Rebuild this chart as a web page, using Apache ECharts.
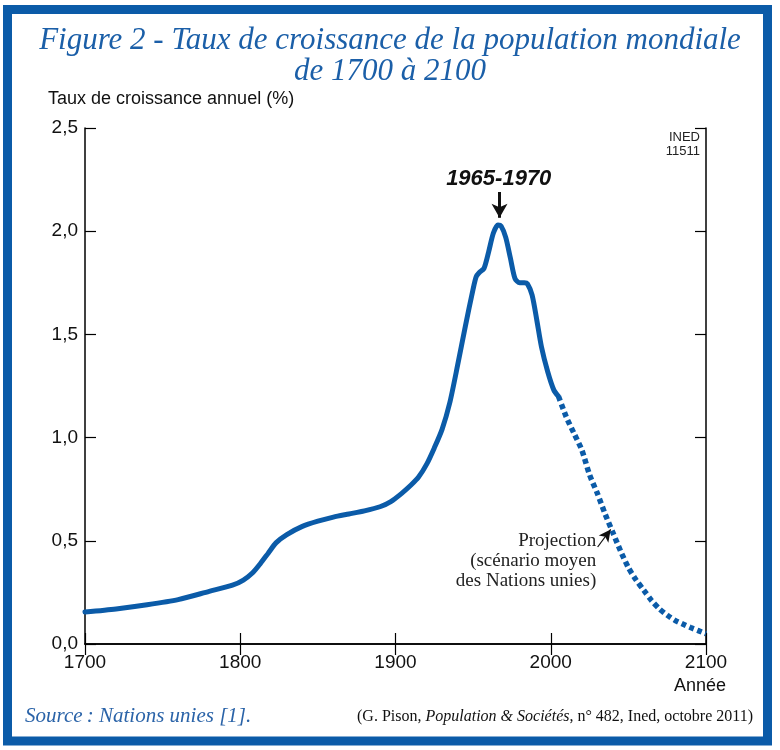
<!DOCTYPE html>
<html>
<head>
<meta charset="utf-8">
<script src="https://cdn.jsdelivr.net/npm/echarts@6/dist/echarts.min.js"></script>
<style>
html,body{margin:0;padding:0;background:#fff;}
#c{width:780px;height:750px;}
</style>
</head>
<body>
<div id="c"></div>
<script>
// Observed growth rates (% per year)
var histYears = [1700,1720,1740,1760,1780,1795,1802,1808,1813,1818,1823,1830,1840,1850,1860,1870,1880,1890,1897,1904,1910,1915,1920,1925,1930,1935,1940,1945,1950,1952,1954,1957,1960,1963,1966,1968,1971,1974,1977,1980,1983,1985,1988,1991,1994,1998,2002,2005];
var histRates = [0.155,0.17,0.19,0.215,0.255,0.285,0.31,0.345,0.39,0.44,0.49,0.53,0.57,0.595,0.615,0.63,0.645,0.665,0.69,0.73,0.77,0.81,0.87,0.95,1.04,1.17,1.35,1.54,1.72,1.78,1.80,1.82,1.90,1.99,2.03,2.025,1.97,1.87,1.77,1.75,1.75,1.745,1.69,1.57,1.44,1.32,1.23,1.20];
// UN medium-variant projection
var projYears = [2005,2010,2015,2020,2025,2030,2035,2040,2045,2050,2055,2060,2065,2070,2075,2080,2085,2090,2095,2100];
var projRates = [1.20,1.10,1.02,0.94,0.82,0.73,0.63,0.54,0.45,0.37,0.31,0.26,0.21,0.17,0.14,0.115,0.097,0.08,0.065,0.05];
var yTicks = ['0,0','0,5','1,0','1,5','2,0','2,5'];
var xTicks = ['1700','1800','1900','2000','2100'];

var BLUE = '#0b5ba8';
function pairs(xs, ys){ return xs.map(function(x,i){return [x, ys[i]];}); }

var chart = echarts.init(document.getElementById('c'), null, {renderer:'canvas'});
var sansFont = 'Liberation Sans';
var axisLine = {show:true, lineStyle:{color:'#000', width:1.5}};
var tick = {show:true, inside:true, length:11, lineStyle:{color:'#000', width:1.2}};
var option = {
  backgroundColor:'#fff',
  animation:false,
  grid:{left:85, top:128, right:74, bottom:106, containLabel:false},
  xAxis:[{
    type:'value', min:1700, max:2100, interval:100, position:'bottom',
    axisLine:axisLine, axisTick:tick,
    axisLabel:{margin:9, fontFamily:sansFont, fontSize:19, color:'#111',
      formatter:function(v){ return xTicks[Math.round((v-1700)/100)]; }},
    splitLine:{show:false}
  },{
    type:'value', min:1700, max:2100, interval:100, position:'top',
    axisLine:axisLine, axisTick:tick,
    axisLabel:{show:false}, splitLine:{show:false}
  }],
  yAxis:[{
    type:'value', min:0, max:2.5, interval:0.5, position:'left',
    axisLine:axisLine, axisTick:tick,
    axisLabel:{margin:7, fontFamily:sansFont, fontSize:19, color:'#111',
      formatter:function(v){ return yTicks[Math.round(v/0.5)]; }},
    splitLine:{show:false}
  },{
    type:'value', min:0, max:2.5, interval:0.5, position:'right',
    axisLine:axisLine, axisTick:tick,
    axisLabel:{show:false}, splitLine:{show:false}
  }],
  series:[{
    type:'line', name:'observed', data:pairs(histYears, histRates),
    smooth:0.25, symbol:'none', clip:false,
    lineStyle:{color:BLUE, width:5, cap:'round', join:'round'},
    markLine:{
      silent:true, symbolSize:[12,14],
      lineStyle:{color:'#111', width:3, type:'solid'},
      label:{show:false},
      data:[[{coord:[1967,2.19], symbol:'none'},{coord:[1967,2.065], symbol:'arrow'}]]
    },
    markPoint:{
      silent:true,
      data:[{coord:[1966.5,2.255], symbol:'circle', symbolSize:0,
        label:{show:true, formatter:'1965-1970', position:'inside', color:'#111',
          fontFamily:sansFont, fontStyle:'italic', fontWeight:'bold', fontSize:22}}]
    }
  },{
    type:'line', name:'projection', data:pairs(projYears, projRates),
    smooth:0.25, symbol:'none',
    lineStyle:{color:BLUE, width:5.5, type:[5,3.5], cap:'butt'},
    markLine:{
      silent:true, symbolSize:[9,12],
      lineStyle:{color:'#111', width:1.2, type:'solid'},
      label:{show:false},
      data:[[{coord:[2030.2,0.47], symbol:'none'},{coord:[2038.6,0.555], symbol:'arrow'}]]
    },
    markPoint:{
      silent:true,
      data:[{coord:[2029.3,0.40], symbol:'circle', symbolSize:0,
        label:{show:true, position:'left', distance:0, align:'right', verticalAlign:'middle',
          formatter:'Projection\n(scénario moyen\ndes Nations unies)',
          color:'#222', fontFamily:'Liberation Serif', fontSize:19, lineHeight:20}}]
    }
  }],
  graphic:[
    {type:'rect', silent:true, shape:{x:7.5, y:9.5, width:760, height:731.5},
      style:{fill:'none', stroke:BLUE, lineWidth:9}},
    {type:'text', left:'center', top:25, silent:true,
      style:{text:'Figure 2 - Taux de croissance de la population mondiale\nde 1700 à 2100',
        fill:'#1b5fa8', font:'italic 31px "Liberation Serif"', textAlign:'center', lineHeight:31}},
    {type:'text', x:48, y:90, silent:true,
      style:{text:'Taux de croissance annuel (%)', fill:'#111', font:'18px "Liberation Sans"'}},
    {type:'text', x:700, y:130, silent:true,
      style:{text:'INED\n11511', fill:'#222', font:'13px "Liberation Sans Narrow", "Liberation Sans"', textAlign:'right', lineHeight:14}},
    {type:'text', x:726, y:677, silent:true,
      style:{text:'Année', fill:'#111', font:'18px "Liberation Sans"', textAlign:'right'}},
    {type:'text', x:25, y:706, silent:true,
      style:{text:'Source\u2009: Nations unies [1].', fill:'#2a63a8', font:'italic 21px "Liberation Serif"'}},
    {type:'text', x:753, y:709, silent:true,
      style:{
        text:'{n|(G. Pison, }{i|Population & Sociétés}{n|, n° 482, Ined, octobre 2011)}',
        textAlign:'right',
        rich:{
          n:{fontFamily:'Liberation Serif', fontSize:16, fill:'#111', color:'#111'},
          i:{fontFamily:'Liberation Serif', fontStyle:'italic', fontSize:16, fill:'#111', color:'#111'}
        }
      }}
  ]
};
chart.setOption(option);
</script>
</body>
</html>
